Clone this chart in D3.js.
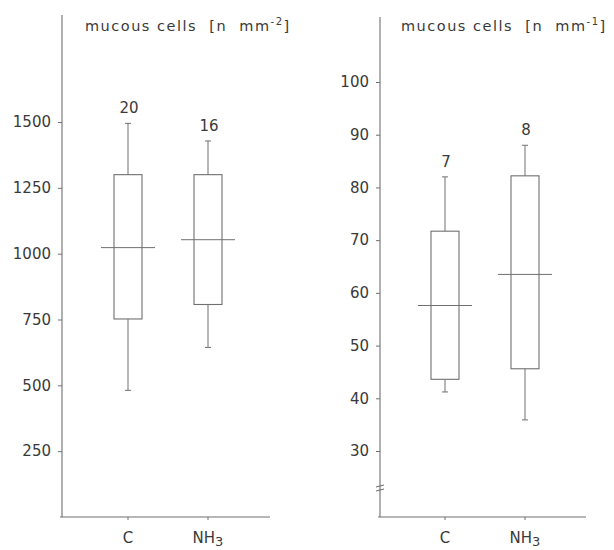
<!DOCTYPE html>
<html>
<head>
<meta charset="utf-8">
<title>mucous cells</title>
<script src="https://d3js.org/d3.v7.min.js"></script>
<style>
body { margin: 0; padding: 0; background: #fff; }
svg { display: block; }
text { font-family: "DejaVu Sans", sans-serif; fill: #3a3a3a; }
</style>
</head>
<body>
<svg id="chart" width="614" height="550"></svg>
<script>
// categories and values
var groups = ["C", "NH3"];

// left panel: mucous cells [n mm-2]
var leftN   = [20, 16];
var leftMin = [481, 644];
var leftQ1  = [752, 807];
var leftMed = [1023, 1053];
var leftQ3  = [1300, 1300];
var leftMax = [1495, 1428];
var leftTicks = [250, 500, 750, 1000, 1250, 1500];

// right panel: mucous cells [n mm-1]
var rightN   = [7, 8];
var rightMin = [41.2, 35.9];
var rightQ1  = [43.6, 45.6];
var rightMed = [57.6, 63.5];
var rightQ3  = [71.7, 82.2];
var rightMax = [82, 88];
var rightTicks = [30, 40, 50, 60, 70, 80, 90, 100];

var svg = d3.select("#chart");
var stroke = "#707070";

function panel(opt) {
  var g = svg.append("g");
  var y = d3.scaleLinear().domain(opt.domain).range(opt.yrange);
  var x = d3.scalePoint().domain(groups).range(opt.xrange);

  // axes
  g.append("line").attr("x1", opt.ax).attr("x2", opt.ax)
    .attr("y1", opt.top).attr("y2", opt.base)
    .attr("stroke", stroke).attr("stroke-width", 1.1);
  g.append("line").attr("x1", opt.ax - 2).attr("x2", opt.xend)
    .attr("y1", opt.base).attr("y2", opt.base)
    .attr("stroke", stroke).attr("stroke-width", 1.1);

  var yAxis = d3.axisLeft(y).tickValues(opt.ticks).tickFormat(d3.format("d"))
    .tickSize(4).tickPadding(7);
  var ga = g.append("g").attr("transform", "translate(" + opt.ax + ",0)").call(yAxis);
  ga.select(".domain").remove();
  ga.selectAll(".tick line").attr("stroke", stroke);
  ga.selectAll(".tick text").attr("font-size", 15).style("font-family", "DejaVu Sans").attr("fill", "#3a3a3a");

  // x ticks and labels
  var gx = g.selectAll(".xt").data(groups).enter().append("g")
    .attr("transform", function(d) { return "translate(" + x(d) + "," + opt.base + ")"; });
  gx.append("line").attr("y1", 0).attr("y2", 3).attr("stroke", stroke);
  var xl = gx.append("text").attr("y", 26).attr("text-anchor", "middle").attr("font-size", 15);
  xl.each(function(d) {
    var t = d3.select(this);
    if (d === "NH3") {
      t.append("tspan").text("NH");
      t.append("tspan").attr("dy", 3).attr("font-size", 13).text("3");
    } else {
      t.text(d);
    }
  });

  // title
  g.append("text").attr("x", opt.titleX).attr("y", 31).attr("font-size", 14.5)
    .attr("fill", "#4a4a4a").style("letter-spacing", "1.5px")
    .html('mucous cells&#160;&#160;[n&#160;&#160;mm<tspan dy="-6" font-size="10">' + opt.exp + '</tspan><tspan dy="6">]</tspan>');

  // boxes
  var bw = 28, mw = 54, cw = 6;
  groups.forEach(function(d, i) {
    var cx = x(d);
    g.append("line").attr("x1", cx).attr("x2", cx)
      .attr("y1", y(opt.max[i])).attr("y2", y(opt.q3[i])).attr("stroke", stroke);
    g.append("line").attr("x1", cx).attr("x2", cx)
      .attr("y1", y(opt.q1[i])).attr("y2", y(opt.min[i])).attr("stroke", stroke);
    g.append("line").attr("x1", cx - cw / 2).attr("x2", cx + cw / 2)
      .attr("y1", y(opt.max[i])).attr("y2", y(opt.max[i])).attr("stroke", stroke);
    g.append("line").attr("x1", cx - cw / 2).attr("x2", cx + cw / 2)
      .attr("y1", y(opt.min[i])).attr("y2", y(opt.min[i])).attr("stroke", stroke);
    g.append("rect").attr("x", cx - bw / 2).attr("width", bw)
      .attr("y", y(opt.q3[i])).attr("height", y(opt.q1[i]) - y(opt.q3[i]))
      .attr("fill", "none").attr("stroke", stroke).attr("stroke-width", 1.1);
    g.append("line").attr("x1", cx - mw / 2).attr("x2", cx + mw / 2)
      .attr("y1", y(opt.med[i])).attr("y2", y(opt.med[i])).attr("stroke", stroke);
    g.append("text").attr("x", cx + 1).attr("y", y(opt.max[i]) - 10)
      .attr("text-anchor", "middle").attr("font-size", 15).text(opt.n[i]);
  });

  // axis break
  if (opt.brk) {
    [0, 4].forEach(function(o) {
      g.append("line").attr("x1", opt.ax - 4).attr("x2", opt.ax + 4)
        .attr("y1", opt.brk + o + 1).attr("y2", opt.brk + o - 1)
        .attr("stroke", stroke).attr("stroke-width", 1.2);
    });
  }
}

panel({
  domain: [0, 1500], yrange: [517, 122], xrange: [128, 208],
  ax: 62, top: 15, base: 517, xend: 270,
  ticks: leftTicks, n: leftN, min: leftMin, q1: leftQ1, med: leftMed, q3: leftQ3, max: leftMax,
  titleX: 85, exp: "-2"
});

panel({
  domain: [30, 100], yrange: [451, 82], xrange: [445, 525],
  ax: 380, top: 17, base: 517, xend: 586,
  ticks: rightTicks, n: rightN, min: rightMin, q1: rightQ1, med: rightMed, q3: rightQ3, max: rightMax,
  titleX: 401, exp: "-1", brk: 486
});
</script>
</body>
</html>
